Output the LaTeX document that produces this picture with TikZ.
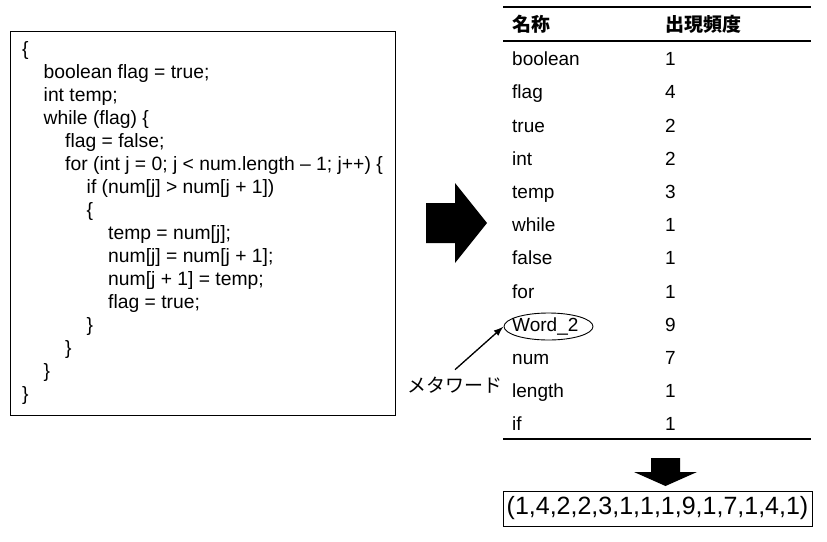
\documentclass[tikz,border=0pt]{standalone}
\usepackage{fontspec}
\setmainfont{Liberation Sans}
\newfontfamily\jpfont{Noto Sans CJK JP}
\usetikzlibrary{arrows.meta,positioning,shapes.geometric}
\newlength\indstep
\setlength\indstep{21.5pt}
\newcommand{\codeind}[1]{\hspace*{#1\indstep}}

\begin{document}
\begin{tikzpicture}[x=1pt, y=-1pt,
    codebox/.style={rectangle, draw, line width=1pt, minimum width=385pt, minimum height=384pt, inner xsep=11pt, align=left, font=\fontsize{19.3}{23.05}\selectfont},
    cell/.style={anchor=base west, inner sep=0pt, font=\fontsize{19}{23}\selectfont},
    head/.style={cell, font=\fontsize{19}{23}\selectfont\jpfont\bfseries},
    rule/.style={line width=1.3pt},
    ring/.style={ellipse, draw, line width=0.9pt, minimum width=89pt, minimum height=27pt},
    note/.style={inner sep=0pt, inner ysep=7pt, font=\fontsize{19}{23}\selectfont\jpfont},
    vecbox/.style={rectangle, draw, line width=1pt, minimum width=309pt, minimum height=35pt, font=\fontsize{25}{30}\selectfont},
    arrow/.style={-{Latex[length=10pt, width=7pt]}, line width=1.3pt},
]
    \useasboundingbox (0,0) rectangle (827,541);

    \node[codebox] (code) at (202.5,223) {\{\\
        \codeind1boolean flag = true;\\
        \codeind1int temp;\\
        \codeind1while (flag) \{\\
        \codeind2flag = false;\\
        \codeind2for (int j = 0; j < num.length – 1; j++) \{\\
        \codeind3if (num[j] > num[j + 1])\\
        \codeind3\{\\
        \codeind4temp = num[j];\\
        \codeind4num[j] = num[j + 1];\\
        \codeind4num[j + 1] = temp;\\
        \codeind4flag = true;\\
        \codeind3\}\\
        \codeind2\}\\
        \codeind1\}\\
        \}};

    \fill (426,203) -- (455,203) -- (455,183) -- (487,223) -- (455,263) -- (455,243) -- (426,243) -- cycle;

    \draw[rule] (503,7) -- (811,7);
    \node[head] (hname) at (512,31) {名称};
    \node[head] (hfreq) at (665,31) {出現頻度};
    \draw[rule] (503,41) -- (811,41);

    \node[cell] (boolean) at (512,65.7) {boolean};
    \node[cell] (flag) at (512,98.9) {flag};
    \node[cell] (true) at (512,132.1) {true};
    \node[cell] (int) at (512,165.3) {int};
    \node[cell] (temp) at (512,198.5) {temp};
    \node[cell] (while) at (512,231.7) {while};
    \node[cell] (false) at (512,264.9) {false};
    \node[cell] (for) at (512,298.1) {for};
    \node[cell] (word) at (512,331.3) {Word\_2};
    \node[cell] (num) at (512,364.5) {num};
    \node[cell] (length) at (512,397.7) {length};
    \node[cell] (if) at (512,430.9) {if};

    \node[cell] (fboolean) at (665,65.7) {1};
    \node[cell] (fflag) at (665,98.9) {4};
    \node[cell] (ftrue) at (665,132.1) {2};
    \node[cell] (fint) at (665,165.3) {2};
    \node[cell] (ftemp) at (665,198.5) {3};
    \node[cell] (fwhile) at (665,231.7) {1};
    \node[cell] (ffalse) at (665,264.9) {1};
    \node[cell] (ffor) at (665,298.1) {1};
    \node[cell] (fword) at (665,331.3) {9};
    \node[cell] (fnum) at (665,364.5) {7};
    \node[cell] (flength) at (665,397.7) {1};
    \node[cell] (fif) at (665,430.9) {1};
    \draw[rule] (503,439) -- (811,439);

    \node[ring] (metaring) at (548.5,326.5) {};
    \node[note] (metaword) at (455,385) {メタワード};
    \draw[arrow] (metaword.north) -- (metaring.west);

    \fill (651,458) -- (680,458) -- (680,472) -- (697,472) -- (665.5,486) -- (634,472) -- (651,472) -- cycle;

    \node[vecbox] (vec) at (657.5,508.5) {(1,4,2,2,3,1,1,1,9,1,7,1,4,1)};
\end{tikzpicture}
\end{document}
